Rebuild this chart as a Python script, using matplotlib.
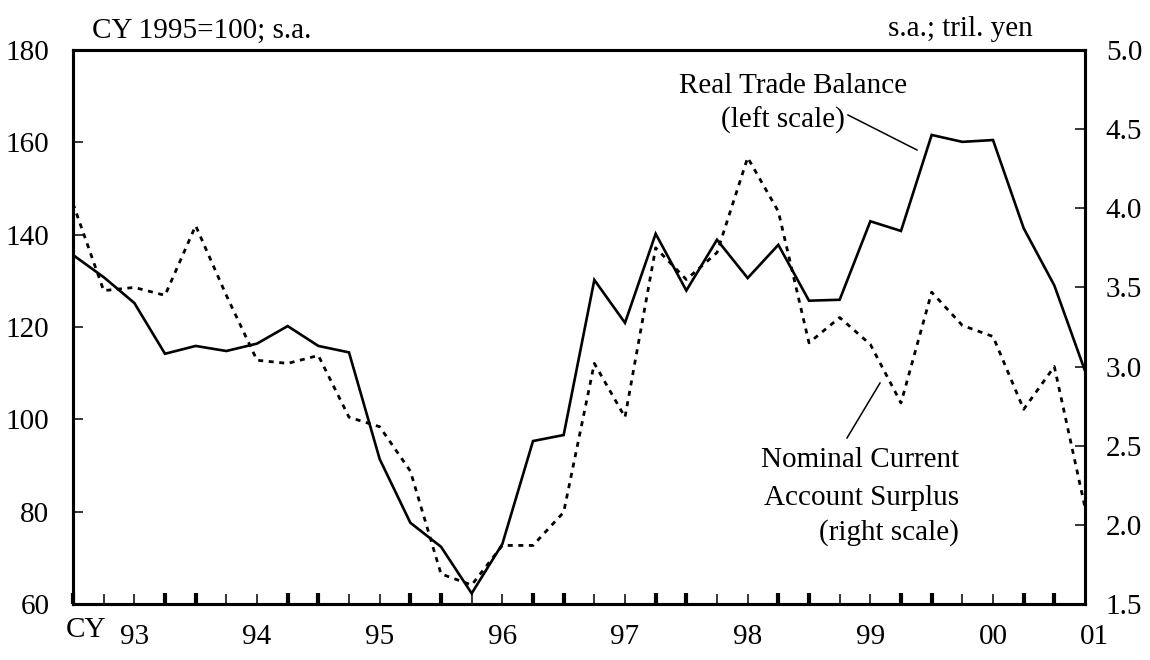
import matplotlib
matplotlib.use("Agg")
import matplotlib.pyplot as plt
from matplotlib.lines import Line2D

plt.rcParams["font.family"] = ["Liberation Serif", "DejaVu Serif"]
FS = 21
plt.rcParams["font.size"] = FS

# quarterly points, 1993 Q1 .. 2001 Q2 (x = quarter index)
real_trade_balance = [135.6, 130.8, 125.2, 114.2, 115.9, 114.8, 116.4, 120.2, 115.9, 114.5,
                      91.4, 77.6, 72.4, 62.3, 73.0, 95.3, 96.6, 130.2, 120.9, 140.2,
                      127.9, 138.9, 130.6, 137.8, 125.7, 125.9, 142.9, 140.8, 161.6, 160.1,
                      160.5, 141.4, 129.0, 110.5]
nominal_ca_surplus = [4.03, 3.48, 3.50, 3.45, 3.89, 3.45, 3.04, 3.02, 3.07, 2.68,
                      2.62, 2.34, 1.69, 1.62, 1.87, 1.87, 2.08, 3.02, 2.68, 3.75,
                      3.55, 3.72, 4.32, 3.98, 3.15, 3.31, 3.14, 2.77, 3.47, 3.26,
                      3.19, 2.73, 3.00, 2.11]
year_labels = ["93", "94", "95", "96", "97", "98", "99", "00", "01"]
year_label_pos = [2, 6, 10, 14, 18, 22, 26, 30, 33.3]
left_ticks = [60, 80, 100, 120, 140, 160, 180]
right_ticks = [1.5, 2.0, 2.5, 3.0, 3.5, 4.0, 4.5, 5.0]

x = list(range(len(real_trade_balance)))

W, H = 1150, 660
fig = plt.figure(figsize=(W / 100, H / 100), dpi=100)
ax = fig.add_axes([73 / W, 1 - 604 / H, (1085 - 73) / W, (604 - 50) / H])
ax2 = ax.twinx()

ax.plot(x, real_trade_balance, color="black", lw=1.9, solid_joinstyle="miter")
ax2.plot(x, nominal_ca_surplus, color="black", lw=2.0, linestyle=(0, (1.8, 2.0)))

ax.set_xlim(0, 33)
ax.set_ylim(60, 180)
ax2.set_ylim(1.5, 5.0)
ax.set_yticks(left_ticks)
ax.set_yticklabels([str(v) for v in left_ticks])
ax2.set_yticks(right_ticks)
ax2.set_yticklabels([f"{v:.1f}" for v in right_ticks])

# thick ticks at 0,3,4,7,8,... thin ticks in between
thick = [i for i in range(33) if i % 4 in (0, 3)]
thin = [i for i in range(33) if i % 4 in (1, 2)]
ax.set_xticks(thick)
ax.set_xticks(thin, minor=True)
ax.set_xticklabels([])
ax.tick_params(axis="x", which="major", direction="in", length=8, width=3.0, top=False)
ax.tick_params(axis="x", which="minor", direction="in", length=7, width=1.1, top=False)
ax.tick_params(axis="y", direction="in", length=7, width=1.1, pad=17, labelsize=FS)
ax2.tick_params(axis="y", direction="in", length=7, width=1.1, pad=15, labelsize=FS)

for a in (ax, ax2):
    for s in a.spines.values():
        s.set_linewidth(2.2)

tr = ax.get_xaxis_transform()
for lab, p in zip(year_labels, year_label_pos):
    ax.text(p, -0.06, lab, transform=tr, ha="center", va="center", fontsize=FS)
ax.text(0.42, -0.047, "CY", transform=tr, ha="center", va="center", fontsize=FS)

fig.text(92 / W, 1 - 38 / H, "CY 1995=100; s.a.", ha="left", va="baseline", fontsize=FS)
fig.text(1033 / W, 1 - 36 / H, "s.a.; tril. yen", ha="right", va="baseline", fontsize=FS)

fig.text(907 / W, 1 - 93 / H, "Real Trade Balance", ha="right", va="baseline", fontsize=FS)
fig.text(845 / W, 1 - 128 / H, "(left scale)", ha="right", va="baseline", fontsize=FS)
fig.text(959 / W, 1 - 467 / H, "Nominal Current", ha="right", va="baseline", fontsize=FS)
fig.text(959 / W, 1 - 505 / H, "Account Surplus", ha="right", va="baseline", fontsize=FS)
fig.text(959 / W, 1 - 540 / H, "(right scale)", ha="right", va="baseline", fontsize=FS)

# leader lines
for (x0, y0), (x1, y1) in [((848, 115), (917, 150)), ((847, 438), (880, 383))]:
    fig.add_artist(Line2D([x0 / W, x1 / W], [1 - y0 / H, 1 - y1 / H],
                          transform=fig.transFigure, color="black", lw=1.1))

fig.savefig("out.png", dpi=100)
